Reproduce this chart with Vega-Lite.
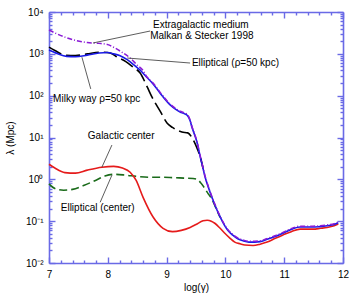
{
  "$schema": "https://vega.github.io/schema/vega-lite/v6.json",
  "width": 294,
  "height": 251,
  "autosize": {"type": "none"},
  "padding": {"left": 49, "top": 12, "right": 11, "bottom": 37},
  "background": "white",
  "config": {
    "view": {"stroke": null},
    "font": "Liberation Sans",
    "axis": {
      "domainColor": "#6a6ae6",
      "domainWidth": 1.6,
      "tickColor": "#6a6ae6",
      "tickWidth": 1.4,
      "grid": false,
      "labelFont": "Liberation Sans",
      "labelFontSize": 10,
      "labelColor": "black",
      "titleFont": "Liberation Sans",
      "titleFontSize": 10,
      "titleFontWeight": "normal",
      "titleColor": "black",
      "labelOverlap": false,
      "labelFlush": false
    }
  },
  "datasets": {
    "curves": [
      {"series": "purple", "g": 7.00, "lam": 3715}, {"series": "purple", "g": 7.10, "lam": 3162}, {"series": "purple", "g": 7.27, "lam": 2512}, {"series": "purple", "g": 7.45, "lam": 2089}, {"series": "purple", "g": 7.65, "lam": 1862}, {"series": "purple", "g": 7.85, "lam": 1778}, {"series": "purple", "g": 8.00, "lam": 1660}, {"series": "purple", "g": 8.12, "lam": 1380}, {"series": "purple", "g": 8.25, "lam": 1072}, {"series": "purple", "g": 8.38, "lam": 794}, {"series": "purple", "g": 8.50, "lam": 537}, {"series": "purple", "g": 8.60, "lam": 398}, {"series": "purple", "g": 8.65, "lam": 302}, {"series": "purple", "g": 8.77, "lam": 200}, {"series": "purple", "g": 8.89, "lam": 120}, {"series": "purple", "g": 9.06, "lam": 63.1}, {"series": "purple", "g": 9.15, "lam": 50.1}, {"series": "purple", "g": 9.23, "lam": 42.7}, {"series": "purple", "g": 9.30, "lam": 38.9}, {"series": "purple", "g": 9.35, "lam": 35.5}, {"series": "purple", "g": 9.40, "lam": 26.3}, {"series": "purple", "g": 9.43, "lam": 18.6}, {"series": "purple", "g": 9.48, "lam": 11.7}, {"series": "purple", "g": 9.52, "lam": 7.76}, {"series": "purple", "g": 9.57, "lam": 3.72}, {"series": "purple", "g": 9.62, "lam": 1.91}, {"series": "purple", "g": 9.65, "lam": 1.26}, {"series": "purple", "g": 9.70, "lam": 0.741}, {"series": "purple", "g": 9.77, "lam": 0.389}, {"series": "purple", "g": 9.84, "lam": 0.219}, {"series": "purple", "g": 9.91, "lam": 0.132}, {"series": "purple", "g": 10.04, "lam": 0.0631}, {"series": "purple", "g": 10.12, "lam": 0.049}, {"series": "purple", "g": 10.21, "lam": 0.0398}, {"series": "purple", "g": 10.30, "lam": 0.0355}, {"series": "purple", "g": 10.40, "lam": 0.0331}, {"series": "purple", "g": 10.50, "lam": 0.0331}, {"series": "purple", "g": 10.59, "lam": 0.0339}, {"series": "purple", "g": 10.70, "lam": 0.038}, {"series": "purple", "g": 10.80, "lam": 0.0427}, {"series": "purple", "g": 10.93, "lam": 0.0501}, {"series": "purple", "g": 11.05, "lam": 0.0603}, {"series": "purple", "g": 11.15, "lam": 0.0692}, {"series": "purple", "g": 11.27, "lam": 0.0759}, {"series": "purple", "g": 11.40, "lam": 0.0759}, {"series": "purple", "g": 11.49, "lam": 0.0759}, {"series": "purple", "g": 11.60, "lam": 0.0776}, {"series": "purple", "g": 11.73, "lam": 0.0813}, {"series": "purple", "g": 11.85, "lam": 0.0871}, {"series": "purple", "g": 11.92, "lam": 0.0955},

      {"series": "blue", "g": 7.00, "lam": 1230}, {"series": "blue", "g": 7.15, "lam": 1000}, {"series": "blue", "g": 7.30, "lam": 871}, {"series": "blue", "g": 7.45, "lam": 851}, {"series": "blue", "g": 7.65, "lam": 933}, {"series": "blue", "g": 7.85, "lam": 1047}, {"series": "blue", "g": 8.00, "lam": 1072}, {"series": "blue", "g": 8.10, "lam": 1000}, {"series": "blue", "g": 8.20, "lam": 912}, {"series": "blue", "g": 8.33, "lam": 724}, {"series": "blue", "g": 8.45, "lam": 537}, {"series": "blue", "g": 8.55, "lam": 407}, {"series": "blue", "g": 8.65, "lam": 288}, {"series": "blue", "g": 8.77, "lam": 191}, {"series": "blue", "g": 8.89, "lam": 115}, {"series": "blue", "g": 9.06, "lam": 60.3}, {"series": "blue", "g": 9.15, "lam": 47.9}, {"series": "blue", "g": 9.23, "lam": 40.7}, {"series": "blue", "g": 9.30, "lam": 37.2}, {"series": "blue", "g": 9.35, "lam": 33.9}, {"series": "blue", "g": 9.40, "lam": 25.1}, {"series": "blue", "g": 9.43, "lam": 17.8}, {"series": "blue", "g": 9.48, "lam": 11.2}, {"series": "blue", "g": 9.52, "lam": 7.41}, {"series": "blue", "g": 9.57, "lam": 3.55}, {"series": "blue", "g": 9.62, "lam": 1.82}, {"series": "blue", "g": 9.65, "lam": 1.2}, {"series": "blue", "g": 9.70, "lam": 0.708}, {"series": "blue", "g": 9.77, "lam": 0.372}, {"series": "blue", "g": 9.84, "lam": 0.209}, {"series": "blue", "g": 9.91, "lam": 0.126}, {"series": "blue", "g": 10.04, "lam": 0.0603}, {"series": "blue", "g": 10.12, "lam": 0.0468}, {"series": "blue", "g": 10.21, "lam": 0.038}, {"series": "blue", "g": 10.30, "lam": 0.0339}, {"series": "blue", "g": 10.40, "lam": 0.0316}, {"series": "blue", "g": 10.50, "lam": 0.0316}, {"series": "blue", "g": 10.59, "lam": 0.0324}, {"series": "blue", "g": 10.70, "lam": 0.0363}, {"series": "blue", "g": 10.80, "lam": 0.0407}, {"series": "blue", "g": 10.93, "lam": 0.0479}, {"series": "blue", "g": 11.05, "lam": 0.0575}, {"series": "blue", "g": 11.15, "lam": 0.0661}, {"series": "blue", "g": 11.27, "lam": 0.0724}, {"series": "blue", "g": 11.40, "lam": 0.0724}, {"series": "blue", "g": 11.49, "lam": 0.0724}, {"series": "blue", "g": 11.60, "lam": 0.0741}, {"series": "blue", "g": 11.73, "lam": 0.0776}, {"series": "blue", "g": 11.85, "lam": 0.0832}, {"series": "blue", "g": 11.92, "lam": 0.0912},

      {"series": "black", "g": 7.00, "lam": 1445}, {"series": "black", "g": 7.10, "lam": 1202}, {"series": "black", "g": 7.27, "lam": 933}, {"series": "black", "g": 7.45, "lam": 912}, {"series": "black", "g": 7.65, "lam": 1000}, {"series": "black", "g": 7.87, "lam": 1096}, {"series": "black", "g": 8.04, "lam": 1047}, {"series": "black", "g": 8.16, "lam": 832}, {"series": "black", "g": 8.30, "lam": 661}, {"series": "black", "g": 8.43, "lam": 479}, {"series": "black", "g": 8.55, "lam": 347}, {"series": "black", "g": 8.67, "lam": 162}, {"series": "black", "g": 8.75, "lam": 93.3}, {"series": "black", "g": 8.89, "lam": 42.7}, {"series": "black", "g": 9.01, "lam": 21.9}, {"series": "black", "g": 9.10, "lam": 17.4}, {"series": "black", "g": 9.26, "lam": 13.5}, {"series": "black", "g": 9.36, "lam": 12.9}, {"series": "black", "g": 9.45, "lam": 8.91}, {"series": "black", "g": 9.53, "lam": 5.01}, {"series": "black", "g": 9.57, "lam": 3.55}, {"series": "black", "g": 9.62, "lam": 1.82},

      {"series": "red", "g": 7.00, "lam": 2.29}, {"series": "red", "g": 7.10, "lam": 1.86}, {"series": "red", "g": 7.27, "lam": 1.45}, {"series": "red", "g": 7.45, "lam": 1.41}, {"series": "red", "g": 7.65, "lam": 1.66}, {"series": "red", "g": 7.90, "lam": 1.95}, {"series": "red", "g": 8.10, "lam": 2.04}, {"series": "red", "g": 8.25, "lam": 1.86}, {"series": "red", "g": 8.38, "lam": 1.48}, {"series": "red", "g": 8.48, "lam": 0.955}, {"series": "red", "g": 8.60, "lam": 0.372}, {"series": "red", "g": 8.77, "lam": 0.126}, {"series": "red", "g": 8.94, "lam": 0.0676}, {"series": "red", "g": 9.10, "lam": 0.0562}, {"series": "red", "g": 9.25, "lam": 0.0603}, {"series": "red", "g": 9.40, "lam": 0.0708}, {"series": "red", "g": 9.50, "lam": 0.0832}, {"series": "red", "g": 9.62, "lam": 0.102}, {"series": "red", "g": 9.69, "lam": 0.105}, {"series": "red", "g": 9.76, "lam": 0.1}, {"series": "red", "g": 9.82, "lam": 0.0891}, {"series": "red", "g": 9.91, "lam": 0.0676}, {"series": "red", "g": 9.99, "lam": 0.0513}, {"series": "red", "g": 10.08, "lam": 0.0389}, {"series": "red", "g": 10.16, "lam": 0.0316}, {"series": "red", "g": 10.25, "lam": 0.0288}, {"series": "red", "g": 10.33, "lam": 0.0269}, {"series": "red", "g": 10.47, "lam": 0.0263}, {"series": "red", "g": 10.59, "lam": 0.0282}, {"series": "red", "g": 10.71, "lam": 0.0316}, {"series": "red", "g": 10.85, "lam": 0.0389}, {"series": "red", "g": 10.98, "lam": 0.0468}, {"series": "red", "g": 11.12, "lam": 0.0562}, {"series": "red", "g": 11.27, "lam": 0.0646}, {"series": "red", "g": 11.49, "lam": 0.0646}, {"series": "red", "g": 11.62, "lam": 0.0676}, {"series": "red", "g": 11.73, "lam": 0.0708}, {"series": "red", "g": 11.85, "lam": 0.0776}, {"series": "red", "g": 11.92, "lam": 0.0851},

      {"series": "green", "g": 7.00, "lam": 0.776}, {"series": "green", "g": 7.10, "lam": 0.603}, {"series": "green", "g": 7.25, "lam": 0.55}, {"series": "green", "g": 7.40, "lam": 0.575}, {"series": "green", "g": 7.60, "lam": 0.724}, {"series": "green", "g": 7.80, "lam": 0.955}, {"series": "green", "g": 7.95, "lam": 1.2}, {"series": "green", "g": 8.10, "lam": 1.32}, {"series": "green", "g": 8.30, "lam": 1.26}, {"series": "green", "g": 8.50, "lam": 1.17}, {"series": "green", "g": 8.70, "lam": 1.12}, {"series": "green", "g": 8.90, "lam": 1.12}, {"series": "green", "g": 9.10, "lam": 1.1}, {"series": "green", "g": 9.30, "lam": 1.07}, {"series": "green", "g": 9.45, "lam": 1.05}, {"series": "green", "g": 9.52, "lam": 1.0}, {"series": "green", "g": 9.60, "lam": 0.759}, {"series": "green", "g": 9.65, "lam": 0.603}, {"series": "green", "g": 9.70, "lam": 0.468}, {"series": "green", "g": 9.77, "lam": 0.339}, {"series": "green", "g": 9.84, "lam": 0.204}, {"series": "green", "g": 9.91, "lam": 0.123}
    ],
    "labels": [
      {"text": "Extragalactic medium", "g": 8.77, "lam": 4800},
      {"text": "Malkan & Stecker 1998", "g": 8.72, "lam": 2650},
      {"text": "Elliptical (ρ=50 kpc)", "g": 9.43, "lam": 603},
      {"text": "Milky way  ρ=50 kpc", "g": 7.07, "lam": 83},
      {"text": "Galactic center", "g": 7.66, "lam": 10.7},
      {"text": "Elliptical (center)", "g": 7.20, "lam": 0.204}
    ],
    "leaders": [
      {"g": 7.75, "lam": 1820, "g2": 8.72, "lam2": 3510},
      {"g": 8.33, "lam": 794, "g2": 9.40, "lam2": 603},
      {"g": 7.56, "lam": 832, "g2": 7.71, "lam2": 145},
      {"g": 8.07, "lam": 6.6, "g2": 7.90, "lam2": 1.95},
      {"g": 8.07, "lam": 1.26, "g2": 7.87, "lam2": 0.282}
    ]
  },
  "resolve": {"axis": {"x": "independent", "y": "independent"}},
  "layer": [
    {
      "data": {"name": "curves"},
      "transform": [{"filter": "datum.series === 'green'"}],
      "mark": {"type": "line", "color": "#1a6b1a", "strokeWidth": 1.6, "strokeDash": [8, 4], "interpolate": "monotone"},
      "encoding": {
        "x": {"field": "g", "type": "quantitative", "scale": {"domain": [7, 12], "nice": false, "zero": false},
          "axis": {"orient": "bottom", "title": "log(γ)", "titlePadding": 0,
            "values": [7, 7.2, 7.4, 7.6, 7.8, 8, 8.2, 8.4, 8.6, 8.8, 9, 9.2, 9.4, 9.6, 9.8, 10, 10.2, 10.4, 10.6, 10.8, 11, 11.2, 11.4, 11.6, 11.8, 12],
            "labelExpr": "datum.value % 1 === 0 ? '' + datum.value : ''",
            "labelPadding": 12,
            "tickSize": {"condition": {"test": "datum.value % 1 === 0", "value": -6}, "value": -3}}},
        "y": {"field": "lam", "type": "quantitative", "scale": {"type": "log", "domain": [0.01, 10000], "nice": false},
          "axis": {"orient": "left", "title": "λ (Mpc)", "titlePadding": 10,
            "values": [0.01, 0.02, 0.03, 0.04, 0.05, 0.06, 0.07, 0.08, 0.09, 0.1, 0.2, 0.3, 0.4, 0.5, 0.6, 0.7, 0.8, 0.9, 1, 2, 3, 4, 5, 6, 7, 8, 9, 10, 20, 30, 40, 50, 60, 70, 80, 90, 100, 200, 300, 400, 500, 600, 700, 800, 900, 1000, 2000, 3000, 4000, 5000, 6000, 7000, 8000, 9000, 10000],
            "labelExpr": "abs(log(datum.value)/LN10 - round(log(datum.value)/LN10)) < 1e-6 ? ['10⁻²','10⁻¹','10⁰','10¹','10²','10³','10⁴'][round(log(datum.value)/LN10) + 2] : ''",
            "labelPadding": 12,
            "tickSize": {"condition": {"test": "abs(log(datum.value)/LN10 - round(log(datum.value)/LN10)) < 1e-6", "value": -6}, "value": -3}}}
      }
    },
    {
      "data": {"name": "curves"},
      "transform": [{"filter": "datum.series === 'red'"}],
      "mark": {"type": "line", "color": "#e51b1b", "strokeWidth": 1.6, "interpolate": "monotone"},
      "encoding": {
        "x": {"field": "g", "type": "quantitative",
          "axis": {"orient": "top", "title": null, "labels": false,
            "values": [7, 7.2, 7.4, 7.6, 7.8, 8, 8.2, 8.4, 8.6, 8.8, 9, 9.2, 9.4, 9.6, 9.8, 10, 10.2, 10.4, 10.6, 10.8, 11, 11.2, 11.4, 11.6, 11.8, 12],
            "tickSize": {"condition": {"test": "datum.value % 1 === 0", "value": -6}, "value": -3}}},
        "y": {"field": "lam", "type": "quantitative",
          "axis": {"orient": "right", "title": null, "labels": false,
            "values": [0.01, 0.02, 0.03, 0.04, 0.05, 0.06, 0.07, 0.08, 0.09, 0.1, 0.2, 0.3, 0.4, 0.5, 0.6, 0.7, 0.8, 0.9, 1, 2, 3, 4, 5, 6, 7, 8, 9, 10, 20, 30, 40, 50, 60, 70, 80, 90, 100, 200, 300, 400, 500, 600, 700, 800, 900, 1000, 2000, 3000, 4000, 5000, 6000, 7000, 8000, 9000, 10000],
            "tickSize": {"condition": {"test": "abs(log(datum.value)/LN10 - round(log(datum.value)/LN10)) < 1e-6", "value": -6}, "value": -3}}}
      }
    },
    {
      "data": {"name": "curves"},
      "transform": [{"filter": "datum.series === 'black'"}],
      "mark": {"type": "line", "color": "black", "strokeWidth": 1.6, "strokeDash": [14, 5], "interpolate": "monotone"},
      "encoding": {
        "x": {"field": "g", "type": "quantitative", "axis": null},
        "y": {"field": "lam", "type": "quantitative", "axis": null}
      }
    },
    {
      "data": {"name": "curves"},
      "transform": [{"filter": "datum.series === 'blue'"}],
      "mark": {"type": "line", "color": "#1a1ae6", "strokeWidth": 1.6, "interpolate": "monotone"},
      "encoding": {
        "x": {"field": "g", "type": "quantitative", "axis": null},
        "y": {"field": "lam", "type": "quantitative", "axis": null}
      }
    },
    {
      "data": {"name": "curves"},
      "transform": [{"filter": "datum.series === 'purple'"}],
      "mark": {"type": "line", "color": "#8a1ad6", "strokeWidth": 1.5, "strokeDash": [5, 2, 1, 2], "interpolate": "monotone"},
      "encoding": {
        "x": {"field": "g", "type": "quantitative", "axis": null},
        "y": {"field": "lam", "type": "quantitative", "axis": null}
      }
    },
    {
      "data": {"name": "leaders"},
      "mark": {"type": "rule", "color": "#333333", "strokeWidth": 0.8},
      "encoding": {
        "x": {"field": "g", "type": "quantitative", "axis": null},
        "y": {"field": "lam", "type": "quantitative", "axis": null},
        "x2": {"field": "g2"},
        "y2": {"field": "lam2"}
      }
    },
    {
      "data": {"name": "labels"},
      "mark": {"type": "text", "align": "left", "baseline": "middle", "font": "Liberation Sans", "fontSize": 10, "color": "black"},
      "encoding": {
        "x": {"field": "g", "type": "quantitative", "axis": null},
        "y": {"field": "lam", "type": "quantitative", "axis": null},
        "text": {"field": "text"}
      }
    }
  ]
}
